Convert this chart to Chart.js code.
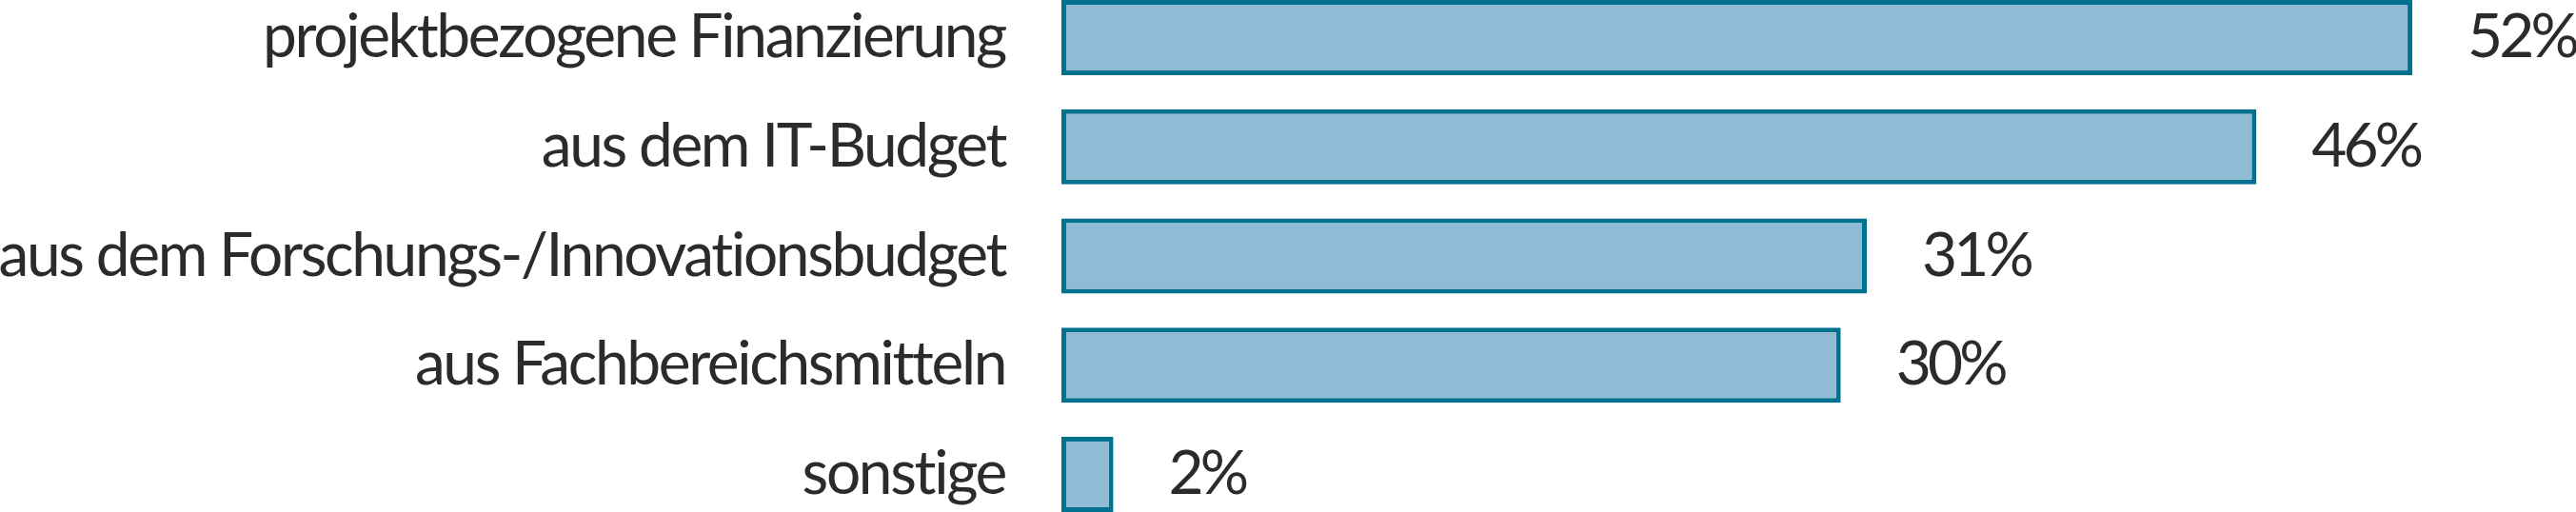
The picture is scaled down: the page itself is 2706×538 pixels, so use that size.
<!DOCTYPE html>
<html>
<head>
<meta charset="utf-8">
<script src="https://cdn.jsdelivr.net/npm/chart.js@4.4.0/dist/chart.umd.min.js"></script>
<style>
  html, body { margin: 0; padding: 0; background: #fff; }
  #frame { width: 2706px; height: 538px; overflow: hidden; }
  /* a bit taller than the frame so the outer bars touch the top/bottom edge */
  #wrap { width: 2706px; height: 574px; margin-top: -18px; }
</style>
</head>
<body>
<div id="frame"><div id="wrap"><canvas id="myChart"></canvas></div></div>
<script>
const categories = [
  "projektbezogene Finanzierung",
  "aus dem IT-Budget",
  "aus dem Forschungs-/Innovationsbudget",
  "aus Fachbereichsmitteln",
  "sonstige"
];
const shares = [52, 46, 31, 30, 2];
const valueLabels = ["52%", "46%", "31%", "30%", "2%"];

const TEXT = "#2b2b2b";
const SIZE = 64;

// the original face is narrower than the installed sans fonts: take the one
// whose width comes closest, then fix the rest with a little letter spacing
const faces = ["Roboto", "Liberation Sans", "Lato", "Open Sans"];
let chosen = null;
function pickFace(ctx) {
  if (chosen) return chosen;
  const probe = "projektbezogene Finanzierung";
  let bestErr = Infinity;
  faces.forEach(f => {
    ctx.font = SIZE + 'px "' + f + '", sans-serif';
    ctx.letterSpacing = "0px";
    const err = Math.abs(ctx.measureText(probe).width - 780);
    if (err < bestErr) { bestErr = err; chosen = f; }
  });
  return chosen;
}
function setFont(ctx, probe, targetWidth) {
  ctx.font = SIZE + 'px "' + pickFace(ctx) + '", sans-serif';
  ctx.letterSpacing = "0px";
  const w = ctx.measureText(probe).width;
  ctx.letterSpacing = ((targetWidth - w) / probe.length).toFixed(2) + "px";
}

const labelPlugin = {
  id: "labels",
  afterDatasetsDraw(chart) {
    const ctx = chart.ctx;
    const yScale = chart.scales.y;
    const meta = chart.getDatasetMeta(0);

    ctx.save();
    setFont(ctx, "projektbezogene Finanzierung", 780);
    ctx.fillStyle = TEXT;
    ctx.textBaseline = "middle";
    ctx.textAlign = "right";
    categories.forEach((c, i) => {
      ctx.fillText(c, yScale.right - 59, yScale.getPixelForTick(i));
    });
    ctx.restore();

    ctx.save();
    setFont(ctx, "52%", 114);
    ctx.fillStyle = TEXT;
    ctx.textBaseline = "middle";
    ctx.textAlign = "left";
    meta.data.forEach((bar, i) => {
      ctx.fillText(valueLabels[i], bar.x + 58, bar.y);
    });
    ctx.restore();
  }
};

const myChartRef = document.getElementById("myChart").getContext("2d");
new Chart(myChartRef, {
  type: "bar",
  data: {
    labels: categories,
    datasets: [
      {
        label: "Anteil",
        data: shares,
        backgroundColor: "#8fbbd4",
        borderColor: "#00718f",
        borderWidth: 5,
        borderSkipped: false,
        barPercentage: 0.688,
        categoryPercentage: 1
      }
    ]
  },
  options: {
    indexAxis: "y",
    responsive: true,
    maintainAspectRatio: false,
    animation: false,
    layout: { padding: 0 },
    plugins: {
      legend: { display: false },
      tooltip: { enabled: false }
    },
    scales: {
      x: {
        display: false,
        min: 0,
        max: 58.3
      },
      y: {
        grid: { display: false, drawTicks: false },
        border: { display: false },
        ticks: { display: false },
        afterFit(scale) { scale.width = 1115; }
      }
    }
  },
  plugins: [labelPlugin]
});
</script>
</body>
</html>
